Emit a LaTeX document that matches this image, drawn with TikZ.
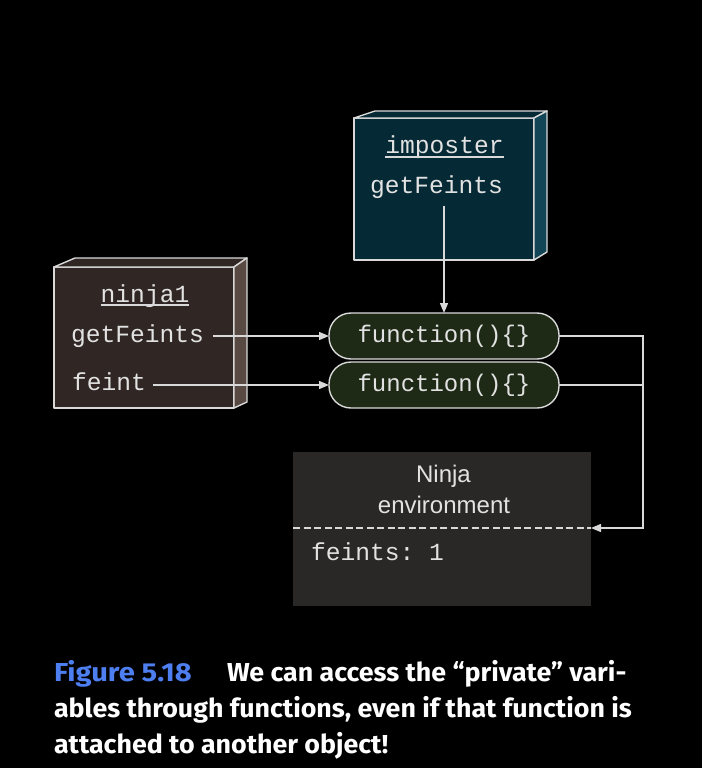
\documentclass[tikz,border=0pt]{standalone}
\usepackage{fontspec}
\setmainfont{Liberation Sans}
\setmonofont{Liberation Mono}
\newfontfamily\capfont[FakeStretch=1.03]{Fira Sans}
\newfontfamily\figfont[FakeStretch=1.12]{Fira Sans}
\usetikzlibrary{arrows.meta}
\definecolor{impfront}{HTML}{052A36}
\definecolor{impside}{HTML}{124657}
\definecolor{ninfront}{HTML}{302724}
\definecolor{ninside}{HTML}{584943}
\definecolor{funcfill}{HTML}{1E2A16}
\definecolor{envfill}{HTML}{2A2826}
\definecolor{linecol}{HTML}{D9D9D9}
\definecolor{txtcol}{HTML}{E2E2E2}
\definecolor{capblue}{HTML}{4E7FF0}
\tikzset{
  line/.style={draw=linecol, line width=1.4pt},
  arr/.style={line, -{Triangle[length=10pt,width=8pt]}},
  face/.style={draw=linecol, line width=1.4pt, line join=round},
  objfront/.style={face, inner sep=0, outer sep=0, anchor=north west},
  mono/.style={inner sep=0, outer sep=0, text=txtcol, font=\ttfamily\fontsize{24.6}{28}\selectfont},
  sans/.style={inner sep=0, outer sep=0, text=txtcol, font=\fontsize{24}{28}\selectfont},
  func/.style={line, fill=funcfill, rounded corners=22pt, minimum width=230pt, minimum height=46pt, inner sep=0, outer sep=0, anchor=north west, text=txtcol, font=\ttfamily\fontsize{24}{28}\selectfont},
  envbox/.style={fill=envfill, minimum width=298pt, minimum height=154pt, inner sep=0, outer sep=0, anchor=north west},
  capline/.style={anchor=base west, inner sep=0, outer sep=0, text=white, font=\capfont\bfseries\fontsize{26}{36}\selectfont},
  figlabel/.style={anchor=base west, inner sep=0, outer sep=0, text=capblue, font=\figfont\bfseries\fontsize{26}{36}\selectfont},
  envdash/.style={line, dash pattern=on 7pt off 3.5pt}
}
\begin{document}
\begin{tikzpicture}[x=1pt,y=-1pt]
\fill[black] (0,0) rectangle (702,768);
\useasboundingbox (0,0) rectangle (702,768);

% imposter object
\node[objfront, fill=impfront, minimum width=180pt, minimum height=142pt] (imp) at (354,118) {};
\filldraw[face, fill=impfront] (imp.north west) -- ++(21,-7) -- ++(172,0) -- (imp.north east) -- cycle;
\filldraw[face, fill=impside] (imp.north east) -- ++(13,-7) -- ++(0,141) -- (imp.south east) -- cycle;
\node[mono, anchor=base] (impT) at (444.5,153) {imposter};
\draw[line, line width=1.2pt] ([yshift=-4pt]impT.base west) -- ([yshift=-4pt]impT.base east);
\node[mono, anchor=base west] (impGF) at (370,193) {getFeints};

% ninja1 object
\node[objfront, fill=ninfront, minimum width=180pt, minimum height=141pt] (nin) at (54,267) {};
\filldraw[face, fill=ninfront] (nin.north west) -- ++(21,-9) -- ++(172,0) -- (nin.north east) -- cycle;
\filldraw[face, fill=ninside] (nin.north east) -- ++(13,-9) -- ++(0,144) -- (nin.south east) -- cycle;
\node[mono, anchor=base] (ninT) at (145,302) {ninja1};
\draw[line, line width=1.2pt] ([yshift=-3pt]ninT.base west) -- ([yshift=-3pt]ninT.base east);
\node[mono, anchor=base west] (ninGF) at (71,342) {getFeints};
\node[mono, anchor=base west] (ninF) at (72,390) {feint};

% functions
\node[func] (func1) at (329,313) {function()\{\}};
\node[func] (func2) at (329,362) {function()\{\}};

% environment
\node[envbox] (env) at (293,452) {};
\node[sans, anchor=base] (envT1) at (443.5,482) {Ninja};
\node[sans, anchor=base] (envT2) at (444,513) {environment};
\coordinate (rail) at (643,528);
\draw[envdash] (env.west |- rail) -- (env.east |- rail);
\node[mono, anchor=base west] (envF) at (311,560) {feints: 1};

% connectors
\draw[arr] ([yshift=-13pt]impGF.base -| func1.north) -- (func1.north);
\draw[arr] ([xshift=9pt]ninGF.base east |- func1.west) -- (func1.west);
\draw[arr] ([xshift=7pt]ninF.base east |- func2.west) -- (func2.west);
\draw[arr] (func1.east) -| (rail) -- (env.east |- rail);
\draw[line] (func2.east) -- (func2.east -| rail);

% caption
\node[figlabel] (fig) at (54,681) {Figure 5.18};
\node[capline] (cap1) at (227,681) {We can access the “private” vari-};
\node[capline] (cap2) at (54,717) {ables through functions, even if that function is};
\node[capline] (cap3) at (54,753) {attached to another object!};
\end{tikzpicture}
\end{document}
